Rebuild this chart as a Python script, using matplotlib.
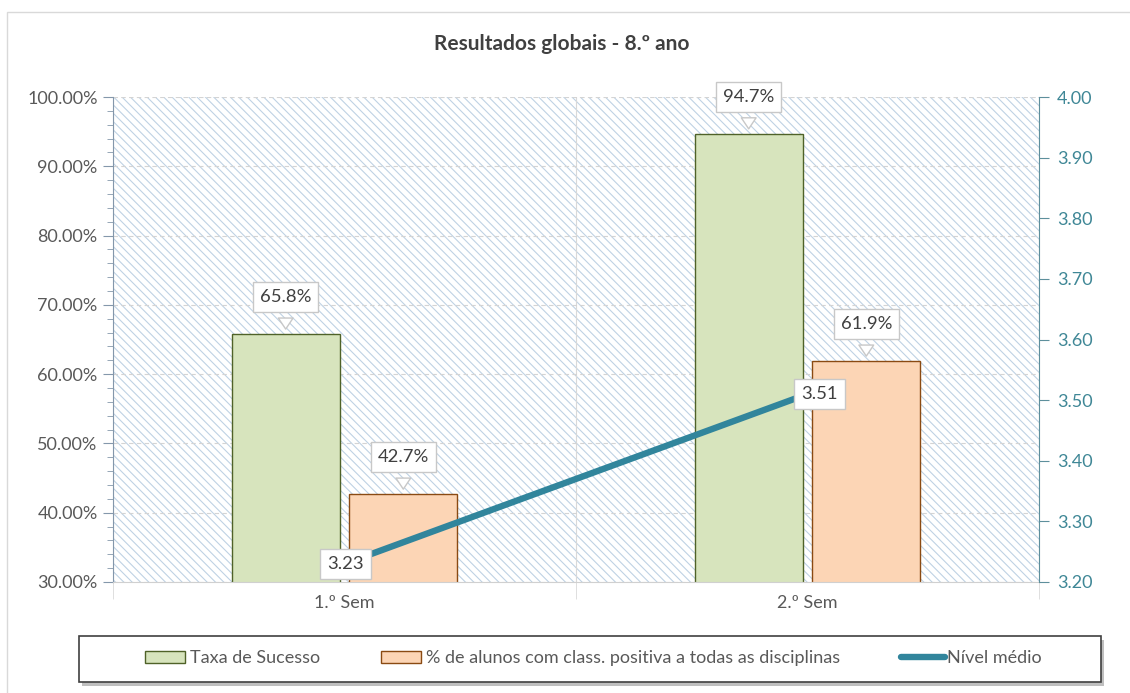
import matplotlib
matplotlib.use("Agg")
import matplotlib.pyplot as plt
from matplotlib.patches import Rectangle, Patch
from matplotlib.lines import Line2D
from matplotlib.ticker import FuncFormatter, MultipleLocator, FixedLocator

plt.rcParams['font.family'] = ['Lato', 'DejaVu Sans']
plt.rcParams['hatch.linewidth'] = 0.8

categories = ['1.º Sem', '2.º Sem']
taxa_sucesso = [65.8, 94.7]
positiva_todas = [42.7, 61.9]
nivel_medio = [3.23, 3.51]

series_names = ['Taxa de Sucesso',
                '% de alunos com class. positiva a todas as disciplinas',
                'Nível médio']
title = 'Resultados globais - 8.º ano'

GREEN, GREEN_EDGE = '#d7e4bd', '#4f6228'
ORANGE, ORANGE_EDGE = '#fcd5b5', '#8a4a12'
TEAL = '#31859c'
TXT = '#595959'
BOX_EDGE = '#c8c8c8'
W, H = 1130, 693


def fx(px):
    return px / W


def fy(py):
    return 1 - py / H


fig = plt.figure(figsize=(W / 100, H / 100), dpi=100)
ax = fig.add_axes([fx(113), fy(582), fx(1039 - 113), (582 - 97) / H])
ax2 = ax.twinx()

# outer chart frame
fig.patches.append(Rectangle((fx(7), -0.05), 1.2, 1.05 - 12 / H,
                             transform=fig.transFigure, fill=False,
                             ec='#d9d9d9', lw=1.0))

# hatched plot area
ax.add_patch(Rectangle((0, 0), 1, 1, transform=ax.transAxes, facecolor='white',
                       edgecolor='#bfd2e4', hatch='\\\\\\\\', lw=0, zorder=0))
ax.set_axisbelow(True)

x = list(range(len(categories)))
width = 0.233
off = 0.127
ax.bar([i - off for i in x], taxa_sucesso, width, color=GREEN, edgecolor=GREEN_EDGE,
       lw=1.0, zorder=2)
ax.bar([i + off for i in x], positiva_todas, width, color=ORANGE, edgecolor=ORANGE_EDGE,
       lw=1.0, zorder=2)

ax.set_xlim(-0.5, 1.5)
ax.set_ylim(30, 100)
ax.yaxis.set_major_locator(MultipleLocator(10))
ax.yaxis.set_minor_locator(MultipleLocator(2))
ax.yaxis.set_major_formatter(FuncFormatter(lambda v, p: f'{v:.2f}%'))
ax.set_xticks(x)
ax.set_xticklabels(categories)
ax.xaxis.set_minor_locator(FixedLocator([-0.5, 0.5, 1.5]))

ax.grid(axis='y', which='major', color='#d4d4d4', ls=(0, (4, 3)), lw=0.8)
ax.grid(axis='x', which='minor', color='#d9d9d9', ls='-', lw=0.8)

for s in ['top', 'right']:
    ax.spines[s].set_visible(False)
ax.spines['left'].set_color('#8497ab')
ax.spines['bottom'].set_color('#d0d0d0')
ax.tick_params(axis='y', which='major', length=7, color='#8497ab', labelsize=13,
               labelcolor=TXT, pad=4)
ax.tick_params(axis='y', which='minor', length=4, color='#8497ab')
ax.tick_params(axis='x', which='major', length=0, labelsize=13, labelcolor=TXT, pad=9)
ax.tick_params(axis='x', which='minor', length=12, color='#d9d9d9')

# secondary axis: average level line
ax2.plot(x, nivel_medio, color=TEAL, lw=4.6, solid_capstyle='butt', zorder=3)
ax2.set_ylim(3.2, 4.0)
ax2.yaxis.set_major_locator(MultipleLocator(0.1))
ax2.yaxis.set_major_formatter(FuncFormatter(lambda v, p: f'{v:.2f}'))
for s in ['top', 'left', 'bottom']:
    ax2.spines[s].set_visible(False)
ax2.spines['right'].set_color('#5d8f9c')
ax2.tick_params(axis='y', length=7, color='#5d8f9c', labelsize=13,
                labelcolor='#3f8796', pad=6)

# callout labels on the bars
for xs, vals in (([i - off for i in x], taxa_sucesso), ([i + off for i in x], positiva_todas)):
    for xi, v in zip(xs, vals):
        ax.annotate(f'{v:.1f}%', xy=(xi, v), xytext=(0, 37), textcoords='offset pixels',
                    ha='center', va='center', fontsize=13.3, color='#404040', zorder=6,
                    bbox=dict(boxstyle='square,pad=0.38', fc='white', ec=BOX_EDGE, lw=1),
                    arrowprops=dict(arrowstyle='wedge,tail_width=0.8,shrink_factor=0.5',
                                    fc='white', ec=BOX_EDGE, lw=1, shrinkA=-4, shrinkB=3.5))

# labels on the line points
for xi, v, dx in zip(x, nivel_medio, (1, 12)):
    ax2.annotate(f'{v:.2f}', xy=(xi, v), xytext=(dx, 0), textcoords='offset pixels',
                 ha='center', va='center', fontsize=13.3, color='#404040', zorder=6,
                 bbox=dict(boxstyle='square,pad=0.38', fc='white', ec=BOX_EDGE, lw=1))

fig.text(fx(562), fy(44), title, ha='center', va='center', fontsize=15,
         fontweight='bold', color='#404040')

# legend frame with drop shadow
fig.patches.append(Rectangle((fx(82), fy(686)), fx(1022), (682 - 636) / H,
                             transform=fig.transFigure, fc='#8c8c8c', ec='none',
                             alpha=0.55, zorder=1))
fig.patches.append(Rectangle((fx(79), fy(682)), fx(1022), (682 - 636) / H,
                             transform=fig.transFigure, fc='white', ec='#404040',
                             lw=1.2, zorder=2))

handles = [Patch(fc=GREEN, ec=GREEN_EDGE, lw=1.0),
           Patch(fc=ORANGE, ec=ORANGE_EDGE, lw=1.0),
           Line2D([], [], color=TEAL, lw=4.6, solid_capstyle='round')]
starts = [145, 381, 901]
hlens = [40, 40, 44]
for h, name, x0, hl in zip(handles, series_names, starts, hlens):
    lg = fig.legend([h], [name], loc='center left', bbox_to_anchor=(fx(x0), fy(658)),
                    frameon=False, fontsize=13, borderpad=0, borderaxespad=0,
                    handlelength=hl / (13 * 100 / 72), handleheight=0.66,
                    handletextpad=0.3 if hl == 40 else 0.1, labelcolor=TXT)
    lg.set_zorder(3)

fig.savefig('out.png', dpi=100, facecolor='white')
